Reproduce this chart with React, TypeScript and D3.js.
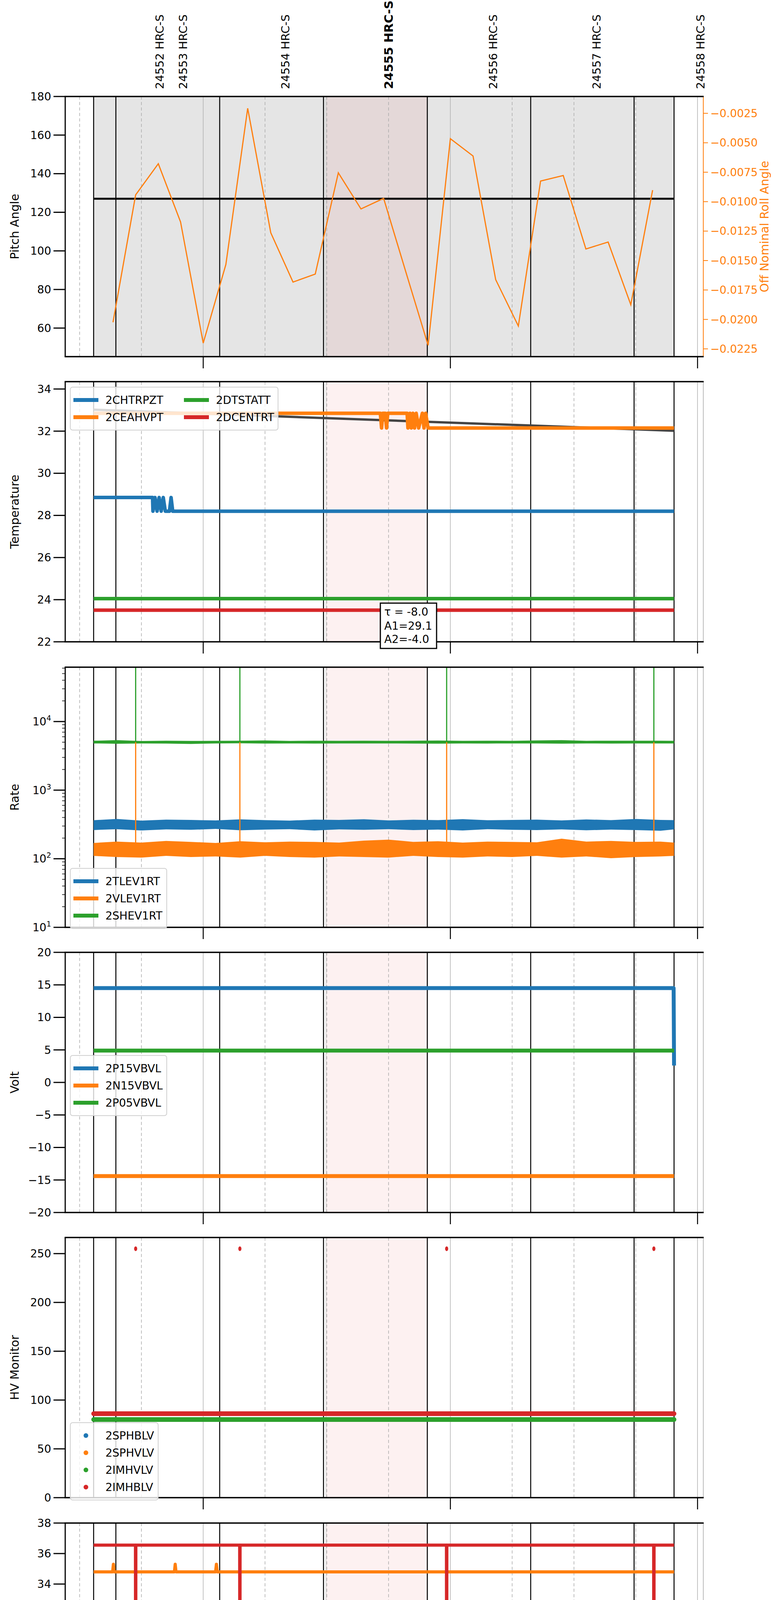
import * as d3 from 'd3'

const T0 = 26.5
const T1 = 181.4
const BOUNDS = [33.4, 38.8, 64.0, 89.2, 114.4, 139.5, 164.6, 174.3]
const OBS_LABELS = ['24552 HRC-S', '24553 HRC-S', '24554 HRC-S', '24555 HRC-S', '24556 HRC-S', '24557 HRC-S', '24558 HRC-S']
const OBS_TIMES = [49.3, 55.0, 79.9, 105.0, 130.3, 155.4, 180.6]
const FOCUS = [89.8, 114.4]
const SPIKES = [43.6, 68.9, 119.1, 169.4]

const rollTimes = [38.1, 43.6, 49.1, 54.5, 60.0, 65.5, 70.8, 76.4, 81.8, 87.2, 92.8, 98.3, 103.8, 109.2, 114.6, 120.0, 125.5, 131.0, 136.5, 141.9, 147.4, 152.9, 158.3, 163.8, 169.1]
const rollValues = [-0.02024, -0.00942, -0.00678, -0.01172, -0.02201, -0.01534, -0.00207, -0.01264, -0.01683, -0.01615, -0.00755, -0.01062, -0.00972, -0.01598, -0.0222, -0.00465, -0.00612, -0.01662, -0.02056, -0.00825, -0.00778, -0.01402, -0.01343, -0.01875, -0.00902]
const PITCH = 127

type P = [number, number]
const tempHtr: P[] = [[33.4, 28.85], [47.7, 28.85], [47.8, 28.2], [48.3, 28.85], [48.8, 28.2], [49.3, 28.85], [49.8, 28.2], [50.3, 28.85], [50.8, 28.2], [51.8, 28.2], [52.2, 28.85], [52.6, 28.2], [174.3, 28.2]]
const tempHv: P[] = [[33.4, 32.85], [103.0, 32.85], [103.3, 32.15], [103.6, 32.85], [104.2, 32.85], [104.5, 32.15], [104.8, 32.85], [109.5, 32.85], [109.7, 32.15], [110.2, 32.85], [110.5, 32.15], [110.9, 32.85], [111.3, 32.15], [111.7, 32.85], [112.3, 32.15], [113.2, 32.85], [113.6, 32.15], [114.0, 32.85], [114.6, 32.15], [174.3, 32.15]]
const tempFit: P[] = [[33.4, 33.02], [174.3, 32.02]]
const tempDts: P[] = [[33.4, 24.05], [174.3, 24.05]]
const tempDce: P[] = [[33.4, 23.5], [174.3, 23.5]]

const rateBandT = [33.4, 39, 45, 51, 57, 63, 69, 75, 81, 87, 93, 99, 105, 111, 117, 123, 129, 135, 141, 147, 153, 159, 165, 171, 174.3]
const rateTLow = [262, 270, 258, 268, 264, 272, 260, 266, 270, 258, 268, 264, 270, 262, 266, 258, 270, 264, 262, 268, 260, 266, 262, 256, 268]
const rateTHigh = [365, 380, 360, 372, 368, 362, 375, 366, 360, 372, 368, 376, 362, 370, 366, 378, 364, 368, 372, 362, 374, 366, 380, 368, 366]
const rateVLow = [110, 106, 104, 110, 106, 108, 104, 110, 106, 104, 108, 106, 104, 110, 106, 104, 108, 106, 110, 104, 108, 102, 106, 108, 110]
const rateVHigh = [170, 178, 172, 182, 176, 170, 180, 174, 178, 176, 172, 184, 190, 176, 180, 172, 178, 176, 174, 196, 178, 182, 176, 178, 172]
const rateSLow = [4800, 4750, 4800, 4780, 4720, 4800, 4820, 4780, 4800, 4780, 4800, 4790, 4800, 4780, 4760, 4800, 4780, 4800, 4790, 4760, 4800, 4780, 4800, 4790, 4800]
const rateSHigh = [5250, 5350, 5200, 5250, 5220, 5240, 5260, 5300, 5220, 5250, 5240, 5260, 5230, 5250, 5280, 5240, 5260, 5230, 5300, 5350, 5240, 5260, 5250, 5260, 5240]

const voltP15: P[] = [[33.4, 14.5], [174.2, 14.5], [174.3, 2.6]]
const voltN15: P[] = [[33.4, -14.4], [174.3, -14.4]]
const voltP05: P[] = [[33.4, 4.9], [174.3, 4.9]]

const hvImhv: P[] = [[33.4, 80], [174.3, 80]]
const hvImhb: P[] = [[33.4, 86], [174.3, 86]]
const hvSpikeVal = 255

const detSpin: P[] = [[33.4, 22.4], [153.1, 22.4], [153.3, 21.65], [153.5, 22.4], [170.9, 22.4], [171.1, 21.65], [171.3, 22.4], [174.3, 22.4]]
const detSphv: P[] = [[33.4, 34.8], [38.0, 34.8], [38.2, 35.3], [38.4, 34.8], [53.0, 34.8], [53.2, 35.3], [53.4, 34.8], [63.0, 34.8], [63.2, 35.3], [63.4, 34.8], [174.3, 34.8]]
const detImin: P[] = [[33.4, 23.15], [76.8, 23.15], [77.0, 23.95], [77.2, 23.15], [78.2, 23.15], [78.4, 23.95], [78.6, 23.15], [111.3, 23.15], [111.5, 23.95], [111.7, 23.15], [174.3, 23.15]]
const detImhvLevel = 36.55

const feaHtr: P[] = [[33.4, 26.4], [174.3, 26.4]]
const feaRad: P[] = [[33.4, 21.8], [174.3, 21.8]]
const feaPraLevel = 27.75
const feaPraDrop = 25.3
const feaE00Level = 25.3
const feaE00Bumps: P[] = [[37.5, 24.9], [52.0, 25.65], [52.8, 25.65], [56.2, 25.65], [67.2, 26.0], [71.7, 25.65], [76.0, 24.9], [78.8, 25.65], [87.0, 25.65], [103.8, 24.6], [106.9, 26.0], [108.0, 25.65], [110.1, 25.65], [113.1, 26.0], [117.6, 25.65], [120.5, 26.0], [132.0, 25.65], [140.1, 25.65], [164.9, 26.0], [168.3, 26.0], [168.7, 26.0]]

const C = { blue: '#1f77b4', orange: '#ff7f0e', green: '#2ca02c', red: '#d62728' }
const W = 2000
const H = 5400
const L = 167
const R = 1801
const PH = 666
const tops = [247, 977, 1708, 2438, 3168, 3899, 4629]
const FONT = 'DejaVu Sans, sans-serif'

const x = d3.scaleLinear([T0, T1], [L, R])

function withSpikes(level: number, to: number): P[] {
  const pts: P[] = [[33.4, level]]
  SPIKES.forEach((s) => {
    pts.push([s - 0.05, level], [s, to], [s + 0.05, level])
  })
  pts.push([174.3, level])
  return pts
}

function feaE00(bottom: number): P[] {
  const ev: { t: number; v: number }[] = feaE00Bumps.map(([t, v]) => ({ t, v })).concat(SPIKES.map((t) => ({ t, v: bottom })))
  ev.sort((a, b) => a.t - b.t)
  const pts: P[] = [[33.4, feaE00Level]]
  ev.forEach(({ t, v }) => pts.push([t - 0.12, feaE00Level], [t, v], [t + 0.12, feaE00Level]))
  pts.push([174.3, feaE00Level])
  return pts
}

function Background({ top, grey }: { top: number; grey?: boolean }) {
  const minors = [30, 45, 75, 90, 105, 135, 150, 165]
  return (
    <g>
      {grey && <rect x={x(BOUNDS[0])} y={top} width={x(BOUNDS[7]) - x(BOUNDS[0])} height={PH} fill="#e5e5e5" />}
      <rect x={x(FOCUS[0])} y={top} width={x(FOCUS[1]) - x(FOCUS[0])} height={PH} fill={grey ? '#e4d8d8' : '#fdf1f1'} />
      {minors.map((m) => (
        <line key={m} x1={x(m)} x2={x(m)} y1={top} y2={top + PH} stroke="#aaa" strokeWidth={1.5} strokeDasharray="8,6" />
      ))}
      {[60, 120, 180].map((m) => (
        <line key={m} x1={x(m)} x2={x(m)} y1={top} y2={top + PH} stroke="#b0b0b0" strokeWidth={1.5} />
      ))}
      <line x1={x(FOCUS[0])} x2={x(FOCUS[0])} y1={top} y2={top + PH} stroke="#c8c8c8" strokeWidth={1.5} />
      {BOUNDS.map((b) => (
        <line key={b} x1={x(b)} x2={x(b)} y1={top} y2={top + PH} stroke="#000" strokeWidth={2.5} />
      ))}
    </g>
  )
}

function Frame({ top, last, rightColor }: { top: number; last?: boolean; rightColor?: string }) {
  const bottom = top + PH
  return (
    <g>
      <line x1={R} x2={R} y1={top} y2={bottom} stroke={rightColor || '#bbb'} strokeWidth={2} />
      <line x1={L} x2={L} y1={top} y2={bottom} stroke="#000" strokeWidth={3} />
      <line x1={L - 1.5} x2={R + 1} y1={top} y2={top} stroke="#000" strokeWidth={3.5} />
      <line x1={L - 1.5} x2={R + 1} y1={bottom} y2={bottom} stroke="#000" strokeWidth={3.5} />
      {[60, 120, 180].map((m) => (
        <line key={m} x1={x(m)} x2={x(m)} y1={bottom} y2={bottom + 30} stroke="#000" strokeWidth={2.5} />
      ))}
      {last &&
        [30, 45, 75, 90, 105, 135, 150, 165].map((m) => (
          <g key={m}>
            <line x1={x(m)} x2={x(m)} y1={bottom} y2={bottom + 8} stroke="#000" strokeWidth={1.5} />
            <text x={x(m)} y={bottom + 24} fontSize={19} textAnchor="middle" fontFamily={FONT}>{String(m % 60)}</text>
          </g>
        ))}
      {last &&
        ['01h', '02h', '03h'].map((s, i) => (
          <text key={s} x={x(60 * (i + 1))} y={bottom + 60} fontSize={30} textAnchor="middle" fontFamily={FONT}>{s}</text>
        ))}
      {last && (
        <text x={(L + R) / 2} y={bottom + 98} fontSize={38} textAnchor="middle" fontFamily={FONT}>2021-09-09 (252)</text>
      )}
    </g>
  )
}

function YAxis({ y, ticks, label, fmt }: { y: d3.ScaleLinear<number, number>; ticks: number[]; label: string; fmt?: (v: number) => string }) {
  const [b, t] = y.range()
  return (
    <g fontFamily={FONT}>
      {ticks.map((v) => (
        <g key={v}>
          <line x1={L - 30} x2={L} y1={y(v)} y2={y(v)} stroke="#000" strokeWidth={3} />
          <text x={L - 36} y={y(v)} dy="0.35em" fontSize={28} textAnchor="end">{fmt ? fmt(v) : String(v).replace('-', '\u2212')}</text>
        </g>
      ))}
      <text transform={`translate(48,${(b + t) / 2}) rotate(-90)`} fontSize={30} textAnchor="middle">{label}</text>
    </g>
  )
}

function Path({ pts, y, color, w }: { pts: P[]; y: (v: number) => number; color: string; w: number }) {
  const line = d3.line<P>().x((d) => x(d[0])).y((d) => y(d[1]))
  return <path d={line(pts) || undefined} fill="none" stroke={color} strokeWidth={w} strokeLinejoin="round" />
}

function Legend({ x0, y0, w, items, cols = 1, dots, colW = 270 }: { x0: number; y0: number; w: number; items: [string, string][]; cols?: number; dots?: boolean; colW?: number }) {
  const rows = Math.ceil(items.length / cols)
  const h = rows * 44 + 22
  return (
    <g fontFamily={FONT}>
      <rect x={x0} y={y0} width={w} height={h} rx={6} fill="rgba(255,255,255,0.8)" stroke="#d0d0d0" strokeWidth={2} />
      {items.map(([name, col], i) => {
        const c = Math.floor(i / rows)
        const r = i % rows
        const lx = x0 + 8 + c * colW
        const ly = y0 + 33 + r * 44
        return (
          <g key={name}>
            {dots ? (
              <circle cx={lx + 32} cy={ly} r={6} fill={col} />
            ) : (
              <line x1={lx} x2={lx + 64} y1={ly} y2={ly} stroke={col} strokeWidth={10} />
            )}
            <text x={lx + 82} y={ly} dy="0.35em" fontSize={28}>{name}</text>
          </g>
        )
      })}
    </g>
  )
}

function PitchPanel() {
  const top = tops[0]
  const y = d3.scaleLinear([45.2, 180], [top + PH, top])
  const y2 = d3.scaleLinear([-0.02316, -0.00107], [top + PH, top])
  const roll = d3.line<number>().x((_, i) => x(rollTimes[i])).y((d) => y2(d))
  const rTicks = d3.range(1, 10).map((i) => -0.0025 * i)
  return (
    <g>
      <Background top={top} grey />
      <line x1={x(BOUNDS[0])} x2={x(BOUNDS[7])} y1={y(PITCH)} y2={y(PITCH)} stroke="#000" strokeWidth={5} />
      <path d={roll(rollValues) || undefined} fill="none" stroke={C.orange} strokeWidth={3} />
      <Frame top={top} rightColor={C.orange} />
      <YAxis y={y} ticks={[60, 80, 100, 120, 140, 160, 180]} label="Pitch Angle" />
      <g fontFamily={FONT} fill={C.orange}>
        {rTicks.map((v) => (
          <g key={v}>
            <line x1={R} x2={R + 12} y1={y2(v)} y2={y2(v)} stroke={C.orange} strokeWidth={2} />
            <text x={R + 18} y={y2(v)} dy="0.35em" fontSize={28}>{v.toFixed(4).replace('-', '\u2212')}</text>
          </g>
        ))}
        <text transform={`translate(1968,${top + PH / 2}) rotate(-90)`} fontSize={30} textAnchor="middle">Off Nominal Roll Angle</text>
      </g>
      {OBS_LABELS.map((s, i) => {
        const bold = i === 3
        return (
          <text key={s} transform={`translate(${x(OBS_TIMES[i]) + 11},228) rotate(-90)`} fontSize={bold ? 31 : 29} fontWeight={bold ? 'bold' : 'normal'} fontFamily={FONT}>{s}</text>
        )
      })}
    </g>
  )
}

function TempPanel() {
  const top = tops[1]
  const y = d3.scaleLinear([22, 34.35], [top + PH, top])
  const bx = 1046
  return (
    <g>
      <Background top={top} />
      <Path pts={tempFit} y={y} color="#444" w={6} />
      <Path pts={tempHtr} y={y} color={C.blue} w={9} />
      <Path pts={tempHv} y={y} color={C.orange} w={9} />
      <Path pts={tempDts} y={y} color={C.green} w={9} />
      <Path pts={tempDce} y={y} color={C.red} w={9} />
      <Frame top={top} />
      <YAxis y={y} ticks={[22, 24, 26, 28, 30, 32, 34]} label="Temperature" />
      <Legend x0={180} y0={991} w={532} items={[['2CHTRPZT', C.blue], ['2CEAHVPT', C.orange], ['2DTSTATT', C.green], ['2DCENTRT', C.red]]} cols={2} colW={283} />
      <g fontFamily={FONT}>
        <rect x={bx - 72} y={1544} width={144} height={116} fill="#fff" stroke="#000" strokeWidth={3} />
        <text x={bx - 62} y={1576} fontSize={28}>τ = -8.0</text>
        <text x={bx - 62} y={1612} fontSize={28}>A1=29.1</text>
        <text x={bx - 62} y={1646} fontSize={28}>A2=-4.0</text>
      </g>
    </g>
  )
}

function RatePanel() {
  const top = tops[2]
  const y = d3.scaleLog([10, 62000], [top + PH, top])
  const band = (lo: number[], hi: number[]) =>
    d3.area<number>().x((_, i) => x(rateBandT[i])).y0((_, i) => y(lo[i])).y1((_, i) => y(hi[i]))(lo) || undefined
  const minors: number[] = []
  for (let e = 1; e <= 4; e++) for (let k = 2; k <= 9; k++) if (k * 10 ** e < 62000) minors.push(k * 10 ** e)
  return (
    <g>
      <Background top={top} />
      <path d={band(rateTLow, rateTHigh)} fill={C.blue} />
      <path d={band(rateVLow, rateVHigh)} fill={C.orange} />
      <path d={band(rateSLow, rateSHigh)} fill={C.green} />
      {SPIKES.map((s) => (
        <g key={s}>
          <line x1={x(s)} x2={x(s)} y1={y(170)} y2={y(5000)} stroke={C.orange} strokeWidth={3} />
          <line x1={x(s)} x2={x(s)} y1={y(5000)} y2={top} stroke={C.green} strokeWidth={3} />
        </g>
      ))}
      <Frame top={top} />
      <g fontFamily={FONT}>
        {minors.map((v) => (
          <line key={v} x1={L - 8} x2={L} y1={y(v)} y2={y(v)} stroke="#000" strokeWidth={1.5} />
        ))}
        {[1, 2, 3, 4].map((e) => (
          <g key={e}>
            <line x1={L - 30} x2={L} y1={y(10 ** e)} y2={y(10 ** e)} stroke="#000" strokeWidth={3} />
            <text x={L - 36} y={y(10 ** e)} dy="0.35em" fontSize={28} textAnchor="end">
              10<tspan dy="-12" fontSize={19}>{e}</tspan>
            </text>
          </g>
        ))}
        <text transform={`translate(48,${top + PH / 2}) rotate(-90)`} fontSize={30} textAnchor="middle">Rate</text>
      </g>
      <Legend x0={180} y0={2223} w={247} items={[['2TLEV1RT', C.blue], ['2VLEV1RT', C.orange], ['2SHEV1RT', C.green]]} />
    </g>
  )
}

function VoltPanel() {
  const top = tops[3]
  const y = d3.scaleLinear([-20, 20], [top + PH, top])
  return (
    <g>
      <Background top={top} />
      <Path pts={voltP15} y={y} color={C.blue} w={10} />
      <Path pts={voltN15} y={y} color={C.orange} w={10} />
      <Path pts={voltP05} y={y} color={C.green} w={10} />
      <Frame top={top} />
      <YAxis y={y} ticks={[-20, -15, -10, -5, 0, 5, 10, 15, 20]} label="Volt" />
      <Legend x0={180} y0={2702} w={247} items={[['2P15VBVL', C.blue], ['2N15VBVL', C.orange], ['2P05VBVL', C.green]]} />
    </g>
  )
}

function HvPanel() {
  const top = tops[4]
  const y = d3.scaleLinear([0, 266.5], [top + PH, top])
  return (
    <g>
      <Background top={top} />
      <g strokeLinecap="round">
        <Path pts={hvImhv} y={y} color={C.green} w={12} />
        <Path pts={hvImhb} y={y} color={C.red} w={12} />
      </g>
      {SPIKES.map((s) => (
        <ellipse key={s} cx={x(s)} cy={y(hvSpikeVal)} rx={4} ry={6} fill={C.red} />
      ))}
      <Frame top={top} />
      <YAxis y={y} ticks={[0, 50, 100, 150, 200, 250]} label="HV Monitor" />
      <Legend x0={180} y0={3642} w={225} dots items={[['2SPHBLV', C.blue], ['2SPHVLV', C.orange], ['2IMHVLV', C.green], ['2IMHBLV', C.red]]} />
    </g>
  )
}

function DetPanel() {
  const top = tops[5]
  const y = d3.scaleLinear([20.94, 38.0], [top + PH, top])
  return (
    <g>
      <Background top={top} />
      <Path pts={detSpin} y={y} color={C.blue} w={8} />
      <Path pts={detSphv} y={y} color={C.orange} w={8} />
      <Path pts={detImin} y={y} color={C.green} w={8} />
      <Path pts={withSpikes(detImhvLevel, 20.94)} y={y} color={C.red} w={8} />
      <Frame top={top} />
      <YAxis y={y} ticks={[22, 24, 26, 28, 30, 32, 34, 36, 38]} label="Detector Temp" />
      <Legend x0={859} y0={4143} w={250} items={[['2SPINATM', C.blue], ['2SPHVATM', C.orange], ['2IMINATM', C.green], ['2IMHVATM', C.red]]} />
    </g>
  )
}

function FeaPanel() {
  const top = tops[6]
  const y = d3.scaleLinear([20.29, 29.27], [top + PH, top])
  return (
    <g>
      <Background top={top} />
      <Path pts={feaHtr} y={y} color={C.blue} w={8} />
      <Path pts={feaRad} y={y} color={C.orange} w={8} />
      <Path pts={withSpikes(feaPraLevel, feaPraDrop)} y={y} color={C.green} w={8} />
      <Path pts={feaE00(20.29)} y={y} color={C.red} w={8} />
      <Frame top={top} last />
      <YAxis y={y} ticks={[21, 22, 23, 24, 25, 26, 27, 28, 29]} label="FEA Temp" />
      <Legend x0={180} y0={5104} w={252} items={[['2FHTRMZT', C.blue], ['2FRADPYT', C.orange], ['2FEPRATM', C.green], ['2FE00ATM', C.red]]} />
    </g>
  )
}

export default function App() {
  return (
    <svg width={W} height={H} style={{ position: 'absolute', left: 0, top: 0, display: 'block', background: '#fff' }}>
      <PitchPanel />
      <TempPanel />
      <RatePanel />
      <VoltPanel />
      <HvPanel />
      <DetPanel />
      <FeaPanel />
    </svg>
  )
}
